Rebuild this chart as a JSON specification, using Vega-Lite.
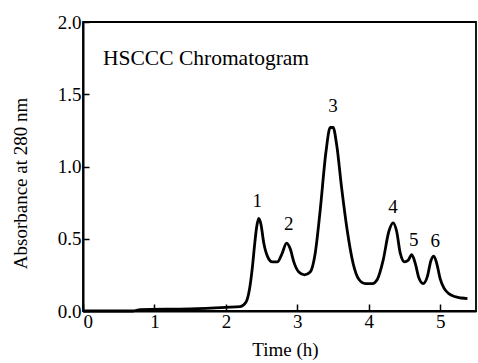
{
  "$schema": "https://vega.github.io/schema/vega-lite/v6.json",
  "width": 393,
  "height": 289,
  "autosize": {"type": "none"},
  "padding": {"left": 83, "top": 22, "right": 2, "bottom": 52},
  "background": "white",
  "config": {
    "font": "Liberation Serif",
    "view": {"stroke": "black", "strokeWidth": 1.8},
    "axis": {"grid": false, "domainColor": "black", "domainWidth": 2, "tickColor": "black", "tickWidth": 1.5, "labelColor": "black", "titleColor": "black", "labelFont": "Liberation Serif", "titleFont": "Liberation Serif", "labelFontSize": 19, "titleFontSize": 19, "titleFontWeight": "normal"}
  },
  "datasets": {
    "curve": [
      {"t": 0.0, "a": 0.0}, {"t": 0.7, "a": 0.0}, {"t": 0.8, "a": 0.01}, {"t": 1.5, "a": 0.015}, {"t": 2.0, "a": 0.025},
      {"t": 2.2, "a": 0.03}, {"t": 2.28, "a": 0.06}, {"t": 2.33, "a": 0.15}, {"t": 2.37, "a": 0.3}, {"t": 2.4, "a": 0.45},
      {"t": 2.43, "a": 0.58}, {"t": 2.46, "a": 0.64}, {"t": 2.49, "a": 0.6}, {"t": 2.53, "a": 0.47}, {"t": 2.58, "a": 0.38},
      {"t": 2.65, "a": 0.34}, {"t": 2.72, "a": 0.34}, {"t": 2.78, "a": 0.39}, {"t": 2.85, "a": 0.47}, {"t": 2.9, "a": 0.43},
      {"t": 2.95, "a": 0.34}, {"t": 3.02, "a": 0.27}, {"t": 3.1, "a": 0.25}, {"t": 3.18, "a": 0.27}, {"t": 3.25, "a": 0.4},
      {"t": 3.32, "a": 0.7}, {"t": 3.4, "a": 1.1}, {"t": 3.46, "a": 1.27}, {"t": 3.5, "a": 1.27}, {"t": 3.55, "a": 1.15},
      {"t": 3.62, "a": 0.85}, {"t": 3.7, "a": 0.55}, {"t": 3.78, "a": 0.33}, {"t": 3.86, "a": 0.22}, {"t": 3.95, "a": 0.19},
      {"t": 4.05, "a": 0.19}, {"t": 4.12, "a": 0.22}, {"t": 4.2, "a": 0.35}, {"t": 4.28, "a": 0.55}, {"t": 4.34, "a": 0.61},
      {"t": 4.39, "a": 0.55}, {"t": 4.44, "a": 0.4}, {"t": 4.5, "a": 0.34}, {"t": 4.55, "a": 0.35}, {"t": 4.6, "a": 0.39},
      {"t": 4.65, "a": 0.33}, {"t": 4.7, "a": 0.23}, {"t": 4.76, "a": 0.19}, {"t": 4.82, "a": 0.24}, {"t": 4.87, "a": 0.35},
      {"t": 4.91, "a": 0.38}, {"t": 4.95, "a": 0.33}, {"t": 5.0, "a": 0.22}, {"t": 5.05, "a": 0.16}, {"t": 5.12, "a": 0.12},
      {"t": 5.2, "a": 0.1}, {"t": 5.3, "a": 0.09}, {"t": 5.38, "a": 0.085}
    ],
    "peaks": [
      {"t": 2.44, "a": 0.72, "label": "1"},
      {"t": 2.88, "a": 0.56, "label": "2"},
      {"t": 3.5, "a": 1.38, "label": "3"},
      {"t": 4.34, "a": 0.68, "label": "4"},
      {"t": 4.63, "a": 0.45, "label": "5"},
      {"t": 4.93, "a": 0.44, "label": "6"}
    ],
    "note": [{"t": 0.28, "a": 1.7, "label": "HSCCC Chromatogram"}]
  },
  "layer": [
    {
      "data": {"name": "curve"},
      "mark": {"type": "line", "color": "black", "strokeWidth": 2.8, "interpolate": "monotone"},
      "encoding": {
        "x": {"field": "t", "type": "quantitative", "scale": {"domain": [0, 5.5], "nice": false}, "axis": {"title": "Time (h)", "values": [0, 1, 2, 3, 4, 5], "format": "d", "tickSize": -7, "labelPadding": 8, "titlePadding": 9, "titleX": 202}},
        "y": {"field": "a", "type": "quantitative", "scale": {"domain": [0, 2], "nice": false}, "axis": {"title": "Absorbance at 280 nm", "values": [0, 0.5, 1, 1.5, 2], "format": ".1f", "tickSize": -6, "labelPadding": 8, "titlePadding": 27, "titleY": 161}}
      }
    },
    {
      "data": {"name": "peaks"},
      "mark": {"type": "text", "fontSize": 19, "color": "black", "baseline": "alphabetic"},
      "encoding": {
        "x": {"field": "t", "type": "quantitative"},
        "y": {"field": "a", "type": "quantitative"},
        "text": {"field": "label"}
      }
    },
    {
      "data": {"name": "note"},
      "mark": {"type": "text", "fontSize": 21.5, "color": "black", "align": "left", "baseline": "alphabetic"},
      "encoding": {
        "x": {"field": "t", "type": "quantitative"},
        "y": {"field": "a", "type": "quantitative"},
        "text": {"field": "label"}
      }
    }
  ]
}
